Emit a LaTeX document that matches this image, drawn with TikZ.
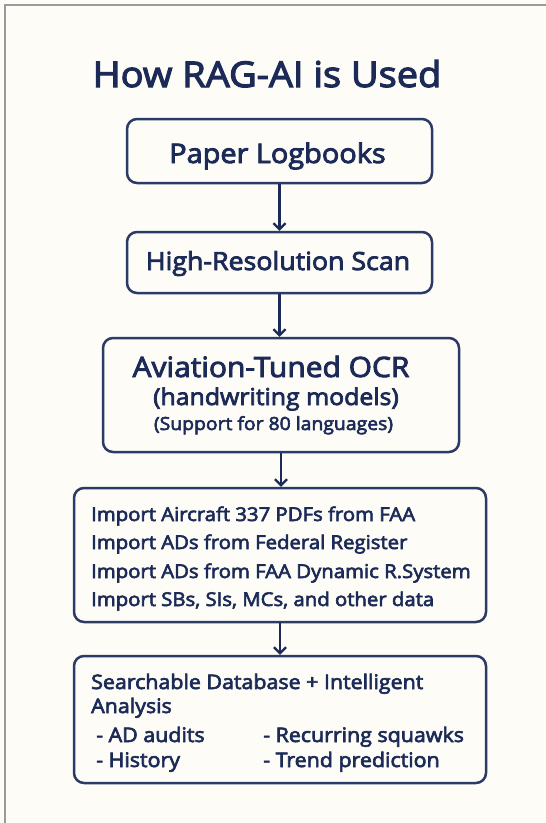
\documentclass[tikz,border=0pt]{standalone}
\usepackage{fontspec}
\setmainfont{Open Sans}[FakeStretch=1.07, FakeBold=3.2]
\usetikzlibrary{arrows.meta}
\definecolor{bgc}{HTML}{FDFCF7}
\definecolor{navy}{HTML}{1B2A57}
\definecolor{boxc}{HTML}{2B3A67}
\definecolor{framec}{HTML}{9A9A9A}
\tikzset{
  stepbox/.style={draw=boxc, line width=2.5pt, rounded corners=10pt, inner sep=0pt},
  txt/.style={text=navy, inner sep=0pt, anchor=base},
  ltxt/.style={text=navy, inner sep=0pt, anchor=base west},
  flow/.style={draw=navy, line width=2.3pt, -{Straight Barb[length=6pt,width=12pt,line width=2.3pt]}},
}
\begin{document}
\begin{tikzpicture}[x=1pt,y=-1pt]
\fill[bgc] (0,0) rectangle (546,823);
\useasboundingbox (0,0) rectangle (546,823);
\draw[framec, line width=2pt] (5,823) -- (5,5) -- (546,5);
% title
\node[txt, font=\fontsize{35.5}{40}\selectfont] (title) at (267,87) {How RAG-AI is Used};
% boxes
\node[stepbox, minimum width=305pt, minimum height=64pt] (b1) at (279.5,151) {};
\node[stepbox, minimum width=305pt, minimum height=61pt] (b2) at (279.5,262.5) {};
\node[stepbox, minimum width=356pt, minimum height=114pt] (b3) at (281,395) {};
\node[stepbox, minimum width=412pt, minimum height=134pt] (b4) at (280,555) {};
\node[stepbox, minimum width=412pt, minimum height=127pt] (b5) at (280,719.5) {};
% texts
\node[txt, font=\fontsize{27}{30}\selectfont] (t1) at (277.5,163) {Paper Logbooks};
\node[txt, font=\fontsize{25}{30}\selectfont] (t2) at (278,270) {High-Resolution Scan};
\node[txt, font=\fontsize{28}{30}\selectfont] (t3a) at (271,377) {Aviation-Tuned OCR};
\node[txt, font=\fontsize{23.2}{26}\selectfont] (t3b) at (276,405) {(handwriting models)};
\node[txt, font=\fontsize{18.1}{20}\selectfont] (t3c) at (273.5,430) {(Support for 80 languages)};
\node[ltxt, font=\fontsize{19}{22}\selectfont] (t4a) at (91,521) {Import Aircraft 337 PDFs from FAA};
\node[ltxt, font=\fontsize{19}{22}\selectfont] (t4b) at (91,549) {Import ADs from Federal Register};
\node[ltxt, font=\fontsize{19}{22}\selectfont] (t4c) at (91,578) {Import ADs from FAA Dynamic R.System};
\node[ltxt, font=\fontsize{19}{22}\selectfont] (t4d) at (91,606) {Import SBs, SIs, MCs, and other data};
\node[ltxt, font=\fontsize{20}{22}\selectfont] (t5a) at (91,689) {Searchable Database + Intelligent};
\node[ltxt, font=\fontsize{20}{22}\selectfont] (t5b) at (91,713) {Analysis};
\node[ltxt, font=\fontsize{20}{22}\selectfont] (t5c) at (96,742) {- AD audits};
\node[ltxt, font=\fontsize{20}{22}\selectfont] (t5d) at (96,767) {- History};
\node[ltxt, font=\fontsize{20}{22}\selectfont] (t5e) at (263,742) {- Recurring squawks};
\node[ltxt, font=\fontsize{20}{22}\selectfont] (t5f) at (263,767) {- Trend prediction};
% arrows
\draw[flow] (b1.south) -- (b2.north);
\draw[flow] (b2.south) -- (b3.north -| b2.south);
\draw[flow] (b3.south) -- (b4.north -| b3.south);
\draw[flow] (b4.south) -- (b5.north);
\end{tikzpicture}
\end{document}
